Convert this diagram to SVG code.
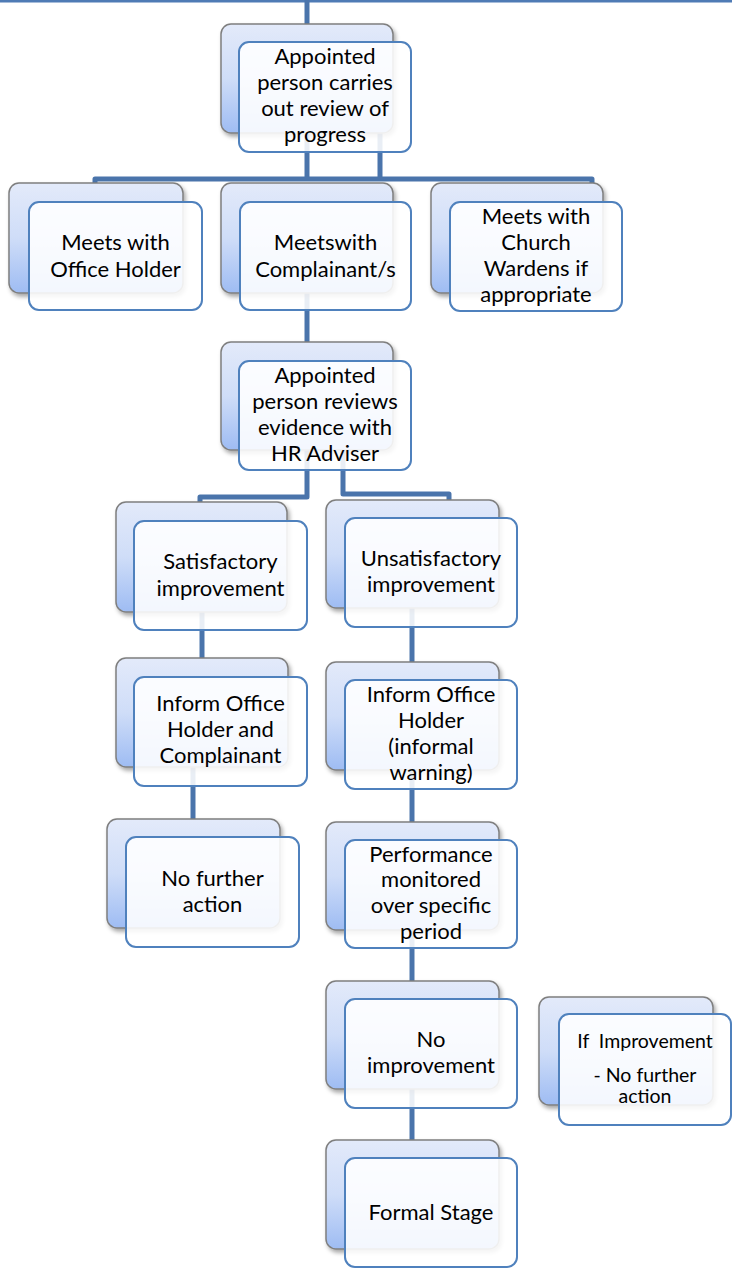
<svg xmlns="http://www.w3.org/2000/svg" width="732" height="1270" viewBox="0 0 732 1270">
<defs>
<linearGradient id="bg" x1="0" y1="0" x2="0" y2="1">
<stop offset="0" stop-color="#e3eafa"/>
<stop offset="0.5" stop-color="#cfddf8"/>
<stop offset="1" stop-color="#9ebcf3"/>
</linearGradient>
<filter id="sh" x="-10%" y="-10%" width="130%" height="130%">
<feDropShadow dx="2" dy="3" stdDeviation="2" flood-color="#000" flood-opacity="0.35"/>
</filter>
<style>
.b{fill:url(#bg);stroke:#7f7f7f;stroke-width:1.5;filter:url(#sh)}
.f{fill:#ffffff;fill-opacity:0.88;stroke:#4f81bd;stroke-width:2}
.c{fill:none;stroke:#4a74ab;stroke-width:5;stroke-linejoin:round}
text{font-family:Lato,"Liberation Sans",sans-serif;font-size:22px;fill:#000;text-anchor:middle}
.s{font-size:19.5px;white-space:pre}
</style>
</defs>
<rect width="732" height="1270" fill="#fff"/>
<g id="connectors">
<rect x="0" y="0" width="732" height="2.5" fill="#4f7bb5"/>
<path class="c" d="M307,0 V24"/>
<path class="c" d="M307,133 V179 M380,133 V179 M95,184 V179 H592 V184"/>
<path class="c" d="M307,293 V342"/>
<path class="c" d="M307,450 V497 H200 V502 M343,450 V494 H449 V500"/>
<path class="c" d="M202,612 V658"/>
<path class="c" d="M412,608 V662"/>
<path class="c" d="M193,767 V819"/>
<path class="c" d="M412,770 V822"/>
<path class="c" d="M412,930 V981"/>
<path class="c" d="M412,1089 V1140"/>
</g>
<g id="n1">
<rect class="b" x="221" y="24" width="172" height="109" rx="10"/>
<rect class="f" x="239" y="42" width="172" height="110" rx="10"/>
<text x="325" y="64">Appointed</text>
<text x="325" y="90">person carries</text>
<text x="325" y="116">out review of</text>
<text x="325" y="142">progress</text>
</g>
<g id="n2">
<rect class="b" x="9" y="183" width="174" height="110" rx="10"/>
<rect class="f" x="29" y="202" width="173" height="108" rx="10"/>
<text x="115.5" y="250">Meets with</text>
<text x="115.5" y="277">Office Holder</text>
</g>
<g id="n3">
<rect class="b" x="221" y="183" width="172" height="110" rx="10"/>
<rect class="f" x="240" y="202" width="171" height="108" rx="10"/>
<text x="325.5" y="250">Meetswith</text>
<text x="325.5" y="277">Complainant/s</text>
</g>
<g id="n4">
<rect class="b" x="431" y="183" width="172" height="110" rx="10"/>
<rect class="f" x="450" y="202" width="172" height="109" rx="10"/>
<text x="536" y="224">Meets with</text>
<text x="536" y="250">Church</text>
<text x="536" y="276">Wardens if</text>
<text x="536" y="302">appropriate</text>
</g>
<g id="n5">
<rect class="b" x="221" y="342" width="172" height="108" rx="10"/>
<rect class="f" x="239" y="361" width="172" height="109" rx="10"/>
<text x="325" y="383">Appointed</text>
<text x="325" y="409">person reviews</text>
<text x="325" y="435">evidence with</text>
<text x="325" y="461">HR Adviser</text>
</g>
<g id="n6">
<rect class="b" x="116" y="502" width="171" height="110" rx="10"/>
<rect class="f" x="134" y="521" width="173" height="109" rx="10"/>
<text x="220.5" y="569">Satisfactory</text>
<text x="220.5" y="596">improvement</text>
</g>
<g id="n7">
<rect class="b" x="326" y="500" width="173" height="108" rx="10"/>
<rect class="f" x="345" y="518" width="172" height="109" rx="10"/>
<text x="431" y="566">Unsatisfactory</text>
<text x="431" y="592">improvement</text>
</g>
<g id="n8">
<rect class="b" x="116" y="658" width="172" height="109" rx="10"/>
<rect class="f" x="134" y="677" width="173" height="109" rx="10"/>
<text x="220.5" y="711">Inform Office</text>
<text x="220.5" y="737">Holder and</text>
<text x="220.5" y="763">Complainant</text>
</g>
<g id="n9">
<rect class="b" x="326" y="662" width="173" height="108" rx="10"/>
<rect class="f" x="345" y="680" width="172" height="109" rx="10"/>
<text x="431" y="702">Inform Office</text>
<text x="431" y="728">Holder</text>
<text x="431" y="754">(informal</text>
<text x="431" y="780">warning)</text>
</g>
<g id="n10">
<rect class="b" x="107" y="819" width="173" height="109" rx="10"/>
<rect class="f" x="126" y="837" width="173" height="110" rx="10"/>
<text x="212.5" y="886">No further</text>
<text x="212.5" y="912">action</text>
</g>
<g id="n11">
<rect class="b" x="326" y="822" width="173" height="108" rx="10"/>
<rect class="f" x="345" y="840" width="172" height="108" rx="10"/>
<text x="431" y="862">Performance</text>
<text x="431" y="887">monitored</text>
<text x="431" y="913">over specific</text>
<text x="431" y="939">period</text>
</g>
<g id="n12">
<rect class="b" x="326" y="981" width="173" height="108" rx="10"/>
<rect class="f" x="345" y="999" width="172" height="109" rx="10"/>
<text x="431" y="1047">No</text>
<text x="431" y="1073">improvement</text>
</g>
<g id="n13">
<rect class="b" x="539" y="997" width="174" height="108" rx="10"/>
<rect class="f" x="559" y="1014" width="172" height="111" rx="10"/>
<text class="s" x="645" y="1048">If  Improvement</text>
<text class="s" x="645" y="1082">- No further</text>
<text class="s" x="645" y="1103">action</text>
</g>
<g id="n14">
<rect class="b" x="326" y="1140" width="173" height="109" rx="10"/>
<rect class="f" x="345" y="1158" width="172" height="109" rx="10"/>
<text x="431" y="1220">Formal Stage</text>
</g>
</svg>
